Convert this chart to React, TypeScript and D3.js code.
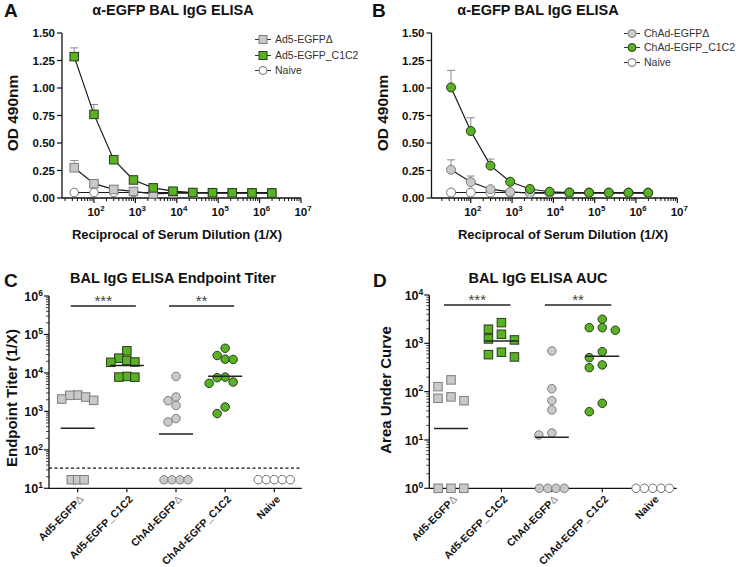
import React from 'react';
import * as d3 from 'd3';

// ---------- Data ----------
const dilutions = [33.3, 100, 300, 900, 2700, 8100, 24300, 72900, 218700, 656100, 1968300];

const odAd5Delta = [0.275, 0.13, 0.078, 0.06, 0.038, 0.045, 0.045, 0.045, 0.045, 0.045, 0.045];
const errAd5Delta = [0.065, 0.015, 0.01, 0.01, 0.005, 0, 0, 0, 0, 0, 0];
const odAd5C1C2 = [1.285, 0.76, 0.348, 0.164, 0.092, 0.062, 0.05, 0.048, 0.047, 0.046, 0.045];
const errAd5C1C2 = [0.08, 0.09, 0.035, 0.01, 0.01, 0.005, 0, 0, 0, 0, 0];
const odNaiveA = [0.05, 0.05, 0.05, 0.05, 0.05, 0.05, 0.05, 0.05, 0.05, 0.05, 0.05];

const odChAdDelta = [0.257, 0.145, 0.08, 0.055, 0.045, 0.045, 0.045, 0.045, 0.045, 0.045, 0.045];
const errChAdDelta = [0.09, 0.055, 0.012, 0.005, 0, 0, 0, 0, 0, 0, 0];
const odChAdC1C2 = [1.005, 0.609, 0.294, 0.148, 0.082, 0.057, 0.05, 0.048, 0.048, 0.048, 0.048];
const errChAdC1C2 = [0.155, 0.12, 0.06, 0.01, 0.008, 0, 0, 0, 0, 0, 0];
const odNaiveB = [0.05, 0.05, 0.05, 0.05, 0.05, 0.05, 0.05, 0.05, 0.05, 0.05, 0.05];

const categories = ['Ad5-EGFPΔ', 'Ad5-EGFP_C1C2', 'ChAd-EGFPΔ', 'ChAd-EGFP_C1C2', 'Naive'];

const titerLOD = 33.3;
const titerFloor = 16.7;
const titerAd5Delta = [2660, 2610, 2360, 2094, 1940, 16.7, 16.7, 16.7];
const titerAd5C1C2 = [37600, 24200, 21100, 19200, 18900, 8110, 7800, 7750];
const titerChAdDelta = [8110, 2360, 1900, 1413, 650, 531, 16.7, 16.7, 16.7, 16.7];
const titerChAdC1C2 = [43800, 28400, 22800, 22400, 7780, 7520, 5780, 5350, 1300, 877];
const titerNaive = [16.7, 16.7, 16.7, 16.7, 16.7];

const aucFloor = 1;
const aucAd5Delta = [175, 127, 78, 73, 65, 1, 1, 1];
const aucAd5C1C2 = [2680, 1960, 1540, 1233, 1175, 655, 583, 523];
const aucChAdDelta = [697, 115, 65, 41.8, 14, 12.7, 1, 1, 1, 1];
const aucChAdC1C2 = [3155, 2110, 2100, 1866, 673, 506, 357, 314, 57.5, 38.5];
const aucNaive = [1, 1, 1, 1, 1];

const titerTickExp = [1, 2, 3, 4, 5, 6];
const aucTickExp = [0, 1, 2, 3, 4];
const odTicks = [0, 0.25, 0.5, 0.75, 1.0, 1.25, 1.5];
const dilTickExp = [2, 3, 4, 5, 6, 7];

// ---------- Styles ----------
const GREEN = '#58b224';
const GREEN_STROKE = '#2a3a1a';
const GRAY = '#c9c9c9';
const GRAY_STROKE = '#7d7d7d';
const WHITE_STROKE = '#707070';
const FONT = 'Liberation Sans, Arial, Helvetica, sans-serif';
const INK = '#111';

type Shape = 'square' | 'circle';

function Marker({ x, y, shape, fill, stroke, size }: { x: number; y: number; shape: Shape; fill: string; stroke: string; size: number }) {
  if (shape === 'square') {
    return <rect x={x - size / 2} y={y - size / 2} width={size} height={size} fill={fill} stroke={stroke} strokeWidth={1} />;
  }
  return <circle cx={x} cy={y} r={size / 2} fill={fill} stroke={stroke} strokeWidth={1} />;
}

function Pow({ x, y, base, exp, anchor, size }: { x: number; y: number; base: string; exp: string | number; anchor: string; size: number }) {
  return (
    <text x={x} y={y} textAnchor={anchor} fontSize={size} fontWeight="bold" fill={INK}>
      <tspan>{base}</tspan>
      <tspan dy={-size * 0.42} fontSize={size * 0.68}>{exp}</tspan>
    </text>
  );
}

function Label({ name, x, y, size }: { name: string; x: number; y: number; size: number }) {
  const hasDelta = name.endsWith('Δ');
  const main = hasDelta ? name.slice(0, -1) : name;
  return (
    <text transform={`translate(${x},${y}) rotate(-45)`} textAnchor="end" fontSize={size} fontWeight="bold" fill={INK} dy="0.35em">
      <tspan>{main}</tspan>
      {hasDelta && <tspan fontWeight="normal" fill="#888">Δ</tspan>}
    </text>
  );
}

// ---------- Line panel (A, B) ----------
type LineSeries = { name: string; values: number[]; err: number[] | null; shape: Shape; fill: string; stroke: string };

function LinePanel({ letter, letterX, axisLeft, axisRight, xMin, series, legendX, legendY, titleX, titleCenterX }: {
  letter: string; letterX: number; axisLeft: number; axisRight: number; xMin: number; series: LineSeries[];
  legendX: number; legendY: number[]; titleX: number; titleCenterX: number;
}) {
  const x = d3.scaleLog().domain([xMin, 1e7]).range([axisLeft, axisRight]);
  const y = d3.scaleLinear().domain([0, 1.5]).range([198, 33]);
  const line = d3.line<number>().x((_, i) => x(dilutions[i])).y((d) => y(d));
  const minor: number[] = [];
  for (let d = 0; d < 7; d++) {
    for (let k = 2; k <= 9; k++) {
      const v = k * Math.pow(10, d);
      if (v >= xMin && v < 1e7) minor.push(v);
    }
  }
  const drawOrder = [2, 0, 1];
  const msize = series[0].shape === 'square' ? 8.5 : 9;
  return (
    <g>
      <text x={letterX} y={17} fontSize={19} fontWeight="bold" fill={INK}>{letter}</text>
      <text x={titleX} y={15} textAnchor="middle" fontSize={14.5} fontWeight="bold" fill={INK}>α-EGFP BAL IgG ELISA</text>
      {/* y axis */}
      <line x1={axisLeft} x2={axisLeft} y1={y(1.5)} y2={y(0)} stroke={INK} strokeWidth={1.3} />
      {odTicks.map((t) => (
        <g key={t}>
          <line x1={axisLeft - 5} x2={axisLeft} y1={y(t)} y2={y(t)} stroke={INK} strokeWidth={1.2} />
          <text x={axisLeft - 7} y={y(t)} dy="0.36em" textAnchor="end" fontSize={11.5} fontWeight="bold" fill={INK}>{t.toFixed(2)}</text>
        </g>
      ))}
      <text transform={`translate(${axisLeft - 44},${113}) rotate(-90)`} textAnchor="middle" fontSize={15.5} fontWeight="bold" fill={INK}>OD 490nm</text>
      {/* x axis */}
      <line x1={axisLeft} x2={axisRight} y1={198} y2={198} stroke={INK} strokeWidth={1.3} />
      {minor.map((v) => (
        <line key={v} x1={x(v)} x2={x(v)} y1={198} y2={201} stroke={INK} strokeWidth={1} />
      ))}
      {dilTickExp.map((e) => (
        <g key={e}>
          <line x1={x(Math.pow(10, e))} x2={x(Math.pow(10, e))} y1={198} y2={203} stroke={INK} strokeWidth={1.2} />
          <Pow x={x(Math.pow(10, e)) + 2} y={216} base="10" exp={e} anchor="middle" size={11.5} />
        </g>
      ))}
      <text x={titleCenterX} y={239} textAnchor="middle" fontSize={13} fontWeight="bold" fill={INK}>Reciprocal of Serum Dilution (1/X)</text>
      {/* data */}
      {drawOrder.map((si) => {
        const s = series[si];
        return (
          <g key={s.name}>
            {s.err && s.values.map((v, i) => s.err![i] > 0.012 ? (
              <g key={i}>
                <line x1={x(dilutions[i])} x2={x(dilutions[i])} y1={y(v)} y2={y(v + s.err![i])} stroke="#8a8a8a" strokeWidth={1} />
                <line x1={x(dilutions[i]) - 4} x2={x(dilutions[i]) + 4} y1={y(v + s.err![i])} y2={y(v + s.err![i])} stroke="#8a8a8a" strokeWidth={1} />
              </g>
            ) : null)}
            <path d={line(s.values) || ''} fill="none" stroke="#1a1a1a" strokeWidth={1.2} />
            {s.values.map((v, i) => (
              <Marker key={i} x={x(dilutions[i])} y={y(v)} shape={s.shape} fill={s.fill} stroke={s.stroke} size={msize} />
            ))}
          </g>
        );
      })}
      {/* legend */}
      {series.map((s, i) => (
        <g key={s.name}>
          <line x1={legendX - 8} x2={legendX + 8} y1={legendY[i]} y2={legendY[i]} stroke="#333" strokeWidth={1} />
          <Marker x={legendX} y={legendY[i]} shape={s.shape} fill={s.fill} stroke={s.stroke} size={8} />
          <text x={legendX + 12} y={legendY[i]} dy="0.35em" fontSize={10.5} fill="#333">{s.name}</text>
        </g>
      ))}
    </g>
  );
}

// ---------- Scatter panels (C, D) ----------
type Group = { cat: string; vals: number[]; shape: Shape; fill: string; stroke: string; mean: boolean };

function swarm(vals: number[], y: (v: number) => number, floor: number, colW: number, rowH: number, rowSp: number) {
  const out: { v: number; dx: number; y: number }[] = [];
  const floorPts = vals.filter((v) => v === floor);
  const rest = vals.filter((v) => v !== floor).sort((a, b) => b - a);
  const placed: { dx: number; y: number }[] = [];
  for (const v of rest) {
    const yy = y(v);
    for (let k = 0; k < 30; k++) {
      const off = k === 0 ? 0 : (k % 2 === 1 ? -Math.ceil(k / 2) : Math.ceil(k / 2)) * colW;
      if (placed.every((p) => Math.abs(p.dx - off) >= colW - 0.01 || Math.abs(p.y - yy) >= rowH)) {
        placed.push({ dx: off, y: yy });
        out.push({ v, dx: off, y: yy });
        break;
      }
    }
  }
  floorPts.forEach((v, i) => out.push({ v, dx: (i - (floorPts.length - 1) / 2) * rowSp, y: y(v) }));
  return out;
}

function ScatterPanel({ letter, letterX, title, titleX, yLabel, yLabelX, yLabelY, axisLeft, axisRight, catRange, yDomain, yRange, tickExp, groups, floor, lod, colW, sqRow, circRow, sig }: {
  letter: string; letterX: number; title: string; titleX: number; yLabel: string; yLabelX: number; yLabelY: number;
  axisLeft: number; axisRight: number; catRange: [number, number]; yDomain: [number, number]; yRange: [number, number];
  tickExp: number[]; groups: Group[]; floor: number; lod: number | null; colW: number; sqRow: number; circRow: number;
  sig: { a: number; b: number; stars: string; y: number }[];
}) {
  const x = d3.scalePoint<string>().domain(categories).range(catRange);
  const y = d3.scaleLog().domain(yDomain).range(yRange);
  const minor: number[] = [];
  for (let e = tickExp[0]; e < tickExp[tickExp.length - 1]; e++) {
    for (let k = 2; k <= 9; k++) minor.push(k * Math.pow(10, e));
  }
  const baseY = yRange[0];
  return (
    <g>
      <text x={letterX} y={287} fontSize={19} fontWeight="bold" fill={INK}>{letter}</text>
      <text x={titleX} y={283} textAnchor="middle" fontSize={14.5} fontWeight="bold" fill={INK}>{title}</text>
      <text transform={`translate(${yLabelX},${yLabelY}) rotate(-90)`} textAnchor="middle" fontSize={15} fontWeight="bold" fill={INK}>{yLabel}</text>
      {/* y axis */}
      <line x1={axisLeft} x2={axisLeft} y1={yRange[1]} y2={baseY} stroke={INK} strokeWidth={1.3} />
      {minor.map((v) => (
        <line key={v} x1={axisLeft - 3} x2={axisLeft} y1={y(v)} y2={y(v)} stroke={INK} strokeWidth={0.8} />
      ))}
      {tickExp.map((e) => (
        <g key={e}>
          <line x1={axisLeft - 5} x2={axisLeft} y1={y(Math.pow(10, e))} y2={y(Math.pow(10, e))} stroke={INK} strokeWidth={1.2} />
          <Pow x={axisLeft - 6} y={y(Math.pow(10, e)) + 5} base="10" exp={e} anchor="end" size={12.5} />
        </g>
      ))}
      {/* x axis */}
      <line x1={axisLeft} x2={axisRight} y1={baseY} y2={baseY} stroke={INK} strokeWidth={1.3} />
      {categories.map((c) => (
        <g key={c}>
          <line x1={x(c)!} x2={x(c)!} y1={baseY} y2={baseY + 4} stroke={INK} strokeWidth={1.2} />
          <Label name={c} x={x(c)! + 4} y={baseY + 9} size={10.5} />
        </g>
      ))}
      {lod !== null && (
        <line x1={axisLeft} x2={axisRight - 2} y1={y(lod)} y2={y(lod)} stroke={INK} strokeWidth={1.2} strokeDasharray="3,2.5" />
      )}
      {/* data */}
      {groups.map((g) => {
        const cx = x(g.cat)!;
        const pts = swarm(g.vals, (v) => y(v), floor, colW, 8.5, g.shape === 'square' ? sqRow : circRow);
        const gm = Math.exp(d3.mean(g.vals, (v) => Math.log(v))!);
        return (
          <g key={g.cat}>
            {pts.map((p, i) => (
              <Marker key={i} x={cx + p.dx} y={p.y} shape={g.shape} fill={g.fill} stroke={g.stroke} size={8.5} />
            ))}
            {g.mean && <line x1={cx - 17} x2={cx + 17} y1={y(gm)} y2={y(gm)} stroke="#222" strokeWidth={1.5} />}
          </g>
        );
      })}
      {/* significance */}
      {sig.map((s, i) => {
        const x1 = x(categories[s.a])! - 7;
        const x2 = x(categories[s.b])! + 9;
        return (
          <g key={i}>
            <line x1={x1} x2={x2} y1={s.y} y2={s.y} stroke="#222" strokeWidth={1.6} />
            <text x={(x1 + x2) / 2} y={s.y} textAnchor="middle" fontSize={15} fill="#444">{s.stars}</text>
          </g>
        );
      })}
    </g>
  );
}

export default function App() {
  const seriesA: LineSeries[] = [
    { name: 'Ad5-EGFPΔ', values: odAd5Delta, err: errAd5Delta, shape: 'square', fill: GRAY, stroke: GRAY_STROKE },
    { name: 'Ad5-EGFP_C1C2', values: odAd5C1C2, err: errAd5C1C2, shape: 'square', fill: GREEN, stroke: GREEN_STROKE },
    { name: 'Naive', values: odNaiveA, err: null, shape: 'circle', fill: '#fff', stroke: WHITE_STROKE },
  ];
  const seriesB: LineSeries[] = [
    { name: 'ChAd-EGFPΔ', values: odChAdDelta, err: errChAdDelta, shape: 'circle', fill: GRAY, stroke: GRAY_STROKE },
    { name: 'ChAd-EGFP_C1C2', values: odChAdC1C2, err: errChAdC1C2, shape: 'circle', fill: GREEN, stroke: GREEN_STROKE },
    { name: 'Naive', values: odNaiveB, err: null, shape: 'circle', fill: '#fff', stroke: WHITE_STROKE },
  ];
  const mk = (vals: number[][]): Group[] => [
    { cat: categories[0], vals: vals[0], shape: 'square', fill: GRAY, stroke: GRAY_STROKE, mean: true },
    { cat: categories[1], vals: vals[1], shape: 'square', fill: GREEN, stroke: GREEN_STROKE, mean: true },
    { cat: categories[2], vals: vals[2], shape: 'circle', fill: GRAY, stroke: GRAY_STROKE, mean: true },
    { cat: categories[3], vals: vals[3], shape: 'circle', fill: GREEN, stroke: GREEN_STROKE, mean: true },
    { cat: categories[4], vals: vals[4], shape: 'circle', fill: '#fff', stroke: WHITE_STROKE, mean: false },
  ];
  return (
    <svg width={736} height={567} style={{ position: 'absolute', left: 0, top: 0, background: '#fff' }} fontFamily={FONT}>
      <rect width={736} height={567} fill="#fff" />
      <LinePanel letter="A" letterX={4} axisLeft={62} axisRight={301} xMin={16.9} series={seriesA}
        legendX={263} legendY={[39.5, 55.5, 70.5]} titleX={173} titleCenterX={177} />
      <LinePanel letter="B" letterX={372} axisLeft={431.5} axisRight={677.3} xMin={11.2} series={seriesB}
        legendX={632} legendY={[33.5, 47.5, 62.5]} titleX={538} titleCenterX={563} />
      <ScatterPanel letter="C" letterX={4} title="BAL IgG ELISA Endpoint Titer" titleX={173}
        yLabel="Endpoint Titer (1/X)" yLabelX={17} yLabelY={398}
        axisLeft={49} axisRight={301.7} catRange={[77.7, 274.3]} yDomain={[10, 1e6]} yRange={[488.3, 296]}
        tickExp={titerTickExp} groups={mk([titerAd5Delta, titerAd5C1C2, titerChAdDelta, titerChAdC1C2, titerNaive])}
        floor={titerFloor} lod={titerLOD} colW={8} sqRow={6.4} circRow={8}
        sig={[{ a: 0, b: 1, stars: '***', y: 306 }, { a: 2, b: 3, stars: '**', y: 306 }]} />
      <ScatterPanel letter="D" letterX={373} title="BAL IgG ELISA AUC" titleX={538}
        yLabel="Area Under Curve" yLabelX={391} yLabelY={390}
        axisLeft={429.3} axisRight={676.7} catRange={[451, 652.7]} yDomain={[1, 1e4]} yRange={[488.3, 295]}
        tickExp={aucTickExp} groups={mk([aucAd5Delta, aucAd5C1C2, aucChAdDelta, aucChAdC1C2, aucNaive])}
        floor={aucFloor} lod={null} colW={13} sqRow={12.8} circRow={8.3}
        sig={[{ a: 0, b: 1, stars: '***', y: 305 }, { a: 2, b: 3, stars: '**', y: 305 }]} />
    </svg>
  );
}
